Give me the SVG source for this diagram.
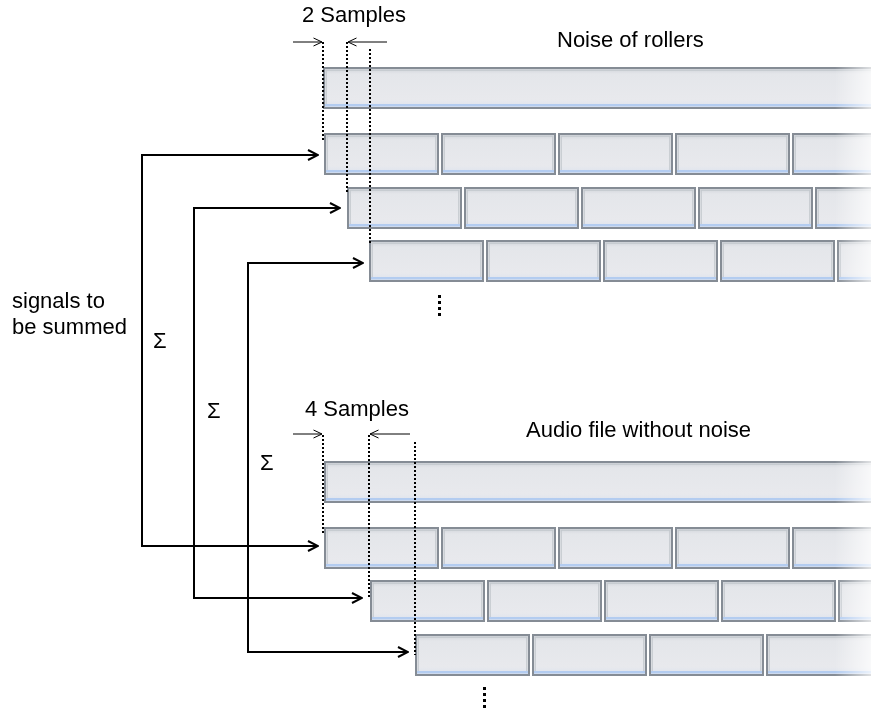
<svg xmlns="http://www.w3.org/2000/svg" xmlns:xlink="http://www.w3.org/1999/xlink" width="871" height="711" viewBox="0 0 871 711">
<style>
text{font-family:"Liberation Sans",Arial,sans-serif;font-size:22px;fill:#000}
.conn{fill:none;stroke:#000;stroke-width:2}
.thin{fill:none;stroke:#000;stroke-width:1}
.dot{fill:none;stroke:#000;stroke-width:2;stroke-dasharray:2 2}
.bd{fill:url(#face);stroke:#858c95;stroke-width:2}
.bev{fill:none;stroke:#c3c8ce;stroke-width:1.2}
.blue{fill:#b3ccf0}
</style>
<defs>
<linearGradient id="face" x1="0" y1="0" x2="0" y2="1">
<stop offset="0" stop-color="#cfd3d9"/>
<stop offset="0.15" stop-color="#e4e6ea"/>
<stop offset="0.8" stop-color="#e8e9ed"/>
<stop offset="1" stop-color="#dbe2ee"/>
</linearGradient>
<linearGradient id="fg" gradientUnits="userSpaceOnUse" x1="835" y1="0" x2="871" y2="0">
<stop offset="0" stop-color="#fff"/>
<stop offset="1" stop-color="#444"/>
</linearGradient>
<mask id="fade" maskUnits="userSpaceOnUse" x="0" y="0" width="871" height="711">
<rect width="871" height="711" fill="url(#fg)"/>
</mask>
<g id="blk">
<rect class="bd" x="1" y="1" width="113" height="40"/>
<rect class="bev" x="3.2" y="3.2" width="108.6" height="34.6"/>
<rect class="blue" x="2" y="37" width="111" height="2.4"/>
</g>
<g id="bar">
<rect class="bd" x="1" y="1" width="580" height="40"/>
<rect class="bev" x="3.2" y="3.2" width="580" height="34.6"/>
<rect class="blue" x="2" y="37" width="580" height="2.4"/>
</g>
<marker id="ah" viewBox="0 0 12 12" refX="11" refY="6" markerWidth="12" markerHeight="12" markerUnits="userSpaceOnUse" orient="auto-start-reverse">
<path d="M1,1 L11,6 L1,11" fill="none" stroke="#000" stroke-width="2"/>
</marker>
<marker id="sh" viewBox="0 0 10 10" refX="9.5" refY="5" markerWidth="10" markerHeight="10" markerUnits="userSpaceOnUse" orient="auto">
<path d="M1,1 L9.5,5 L1,9" fill="none" stroke="#000" stroke-width="1"/>
</marker>
</defs>

<g mask="url(#fade)">
<g id="top-bar"><use xlink:href="#bar" x="323" y="67"/></g>
<g id="top-row1">
<use xlink:href="#blk" x="324" y="133"/><use xlink:href="#blk" x="441" y="133"/><use xlink:href="#blk" x="558" y="133"/><use xlink:href="#blk" x="675" y="133"/><use xlink:href="#blk" x="792" y="133"/>
</g>
<g id="top-row2">
<use xlink:href="#blk" x="347" y="187"/><use xlink:href="#blk" x="464" y="187"/><use xlink:href="#blk" x="581" y="187"/><use xlink:href="#blk" x="698" y="187"/><use xlink:href="#blk" x="815" y="187"/>
</g>
<g id="top-row3">
<use xlink:href="#blk" x="369" y="240"/><use xlink:href="#blk" x="486" y="240"/><use xlink:href="#blk" x="603" y="240"/><use xlink:href="#blk" x="720" y="240"/><use xlink:href="#blk" x="837" y="240"/>
</g>
<g id="bottom-bar"><use xlink:href="#bar" x="324" y="461"/></g>
<g id="bottom-row1">
<use xlink:href="#blk" x="324" y="527"/><use xlink:href="#blk" x="441" y="527"/><use xlink:href="#blk" x="558" y="527"/><use xlink:href="#blk" x="675" y="527"/><use xlink:href="#blk" x="792" y="527"/>
</g>
<g id="bottom-row2">
<use xlink:href="#blk" x="370" y="580"/><use xlink:href="#blk" x="487" y="580"/><use xlink:href="#blk" x="604" y="580"/><use xlink:href="#blk" x="721" y="580"/><use xlink:href="#blk" x="838" y="580"/>
</g>
<g id="bottom-row3">
<use xlink:href="#blk" x="415" y="634"/><use xlink:href="#blk" x="532" y="634"/><use xlink:href="#blk" x="649" y="634"/><use xlink:href="#blk" x="766" y="634"/>
</g>
</g>

<g id="connectors">
<path class="conn" d="M318,155 H142 V546 H318" marker-start="url(#ah)" marker-end="url(#ah)"/>
<path class="conn" d="M340,208 H194 V598 H362" marker-start="url(#ah)" marker-end="url(#ah)"/>
<path class="conn" d="M363,263 H248 V652 H408" marker-start="url(#ah)" marker-end="url(#ah)"/>
<path class="dot" d="M323,42 V141 M347,42 V192 M370,49 V243"/>
<path class="dot" d="M323,435 V535 M369,435 V597 M415,442 V655"/>
<path class="thin" d="M293,42 H322" marker-end="url(#sh)"/>
<path class="thin" d="M387,42 H348" marker-end="url(#sh)"/>
<path class="thin" d="M293,434 H322" marker-end="url(#sh)"/>
<path class="thin" d="M410,434 H370" marker-end="url(#sh)"/>
</g>

<g id="labels">
<text x="302" y="22">2 Samples</text>
<text x="557" y="47">Noise of rollers</text>
<text x="305" y="416">4 Samples</text>
<text x="526" y="437">Audio file without noise</text>
<text x="12" y="308">signals to</text>
<text x="12" y="334">be summed</text>
<text x="153" y="348">Σ</text>
<text x="207" y="418">Σ</text>
<text x="260" y="470">Σ</text>
</g>
<g id="ellipsis">
<rect x="438" y="295" width="3" height="3"/><rect x="438" y="301" width="3" height="3"/><rect x="438" y="307" width="3" height="3"/><rect x="438" y="313" width="3" height="3"/>
<rect x="483" y="687" width="3" height="3"/><rect x="483" y="693" width="3" height="3"/><rect x="483" y="699" width="3" height="3"/><rect x="483" y="705" width="3" height="3"/>
</g>
</svg>
